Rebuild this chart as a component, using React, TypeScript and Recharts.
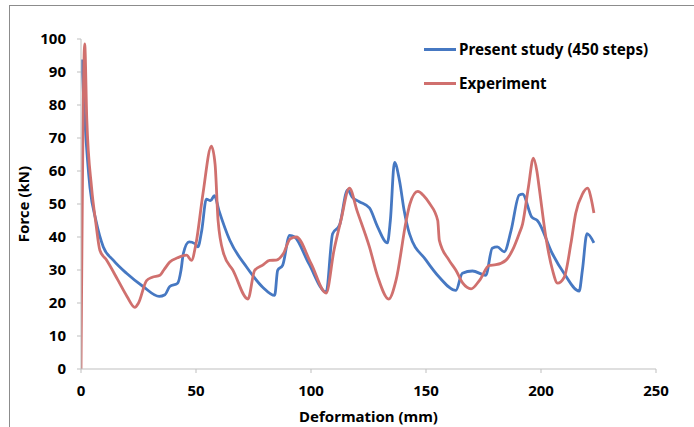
import { Line, LineChart, XAxis, YAxis } from 'recharts';

const presentStudy = [
  { x: 0.3, y: 93.8 }, { x: 1.7, y: 75 }, { x: 3.9, y: 55 }, { x: 6.5, y: 45 },
  { x: 9.7, y: 37 }, { x: 14, y: 33 }, { x: 19.8, y: 29 }, { x: 27, y: 25 },
  { x: 34, y: 22 }, { x: 36.5, y: 22.5 }, { x: 38.6, y: 25 }, { x: 42, y: 26 },
  { x: 43.5, y: 30 }, { x: 44.5, y: 35 }, { x: 47, y: 38.5 }, { x: 49.5, y: 38 },
  { x: 50.8, y: 37 }, { x: 52.5, y: 42 }, { x: 54.5, y: 51.5 }, { x: 56.3, y: 51 },
  { x: 58, y: 52.5 }, { x: 60, y: 48 }, { x: 64.7, y: 39 }, { x: 71.9, y: 31 },
  { x: 79, y: 24.8 }, { x: 84.2, y: 22.3 }, { x: 85.5, y: 29.9 }, { x: 87.7, y: 31.5 },
  { x: 90.7, y: 40.5 }, { x: 92.9, y: 40 }, { x: 99, y: 32 }, { x: 106.6, y: 23.3 },
  { x: 109.4, y: 41 }, { x: 112.4, y: 43.6 }, { x: 115.9, y: 54.3 }, { x: 118, y: 52 },
  { x: 121, y: 50.7 }, { x: 125.4, y: 48.8 }, { x: 129, y: 43 }, { x: 133.2, y: 38.2 },
  { x: 134.5, y: 45 }, { x: 136.3, y: 62.6 }, { x: 138.5, y: 57 }, { x: 140.5, y: 48 },
  { x: 142.8, y: 41 }, { x: 150, y: 33 }, { x: 155.8, y: 27.8 }, { x: 163, y: 23.8 },
  { x: 165.8, y: 29 }, { x: 170.2, y: 29.7 }, { x: 176, y: 28.4 }, { x: 178.8, y: 36.6 },
  { x: 181, y: 37 }, { x: 184, y: 35.5 }, { x: 187, y: 42 }, { x: 190.5, y: 52.7 },
  { x: 192, y: 53 }, { x: 196, y: 46 }, { x: 198.4, y: 45 }, { x: 204.9, y: 35 },
  { x: 210, y: 29 }, { x: 216.6, y: 23.6 }, { x: 218, y: 30 }, { x: 220, y: 41 },
  { x: 223, y: 38.2 },
];

const experiment = [
  { x: 0, y: 0 }, { x: 1.6, y: 98.5 }, { x: 2.5, y: 76 }, { x: 4.6, y: 55 },
  { x: 6.5, y: 44 }, { x: 8.2, y: 36 }, { x: 11.1, y: 33 }, { x: 16, y: 27 },
  { x: 20, y: 22 }, { x: 23.4, y: 18.7 }, { x: 25, y: 20 }, { x: 28.5, y: 26.8 },
  { x: 31, y: 27.8 }, { x: 34.3, y: 28.4 }, { x: 36, y: 30 }, { x: 38.6, y: 32.4 },
  { x: 42, y: 33.7 }, { x: 45.9, y: 34.5 }, { x: 48, y: 32.9 }, { x: 50, y: 38 },
  { x: 53, y: 53 }, { x: 56.7, y: 67.5 }, { x: 58.3, y: 62 }, { x: 59.6, y: 45 },
  { x: 62, y: 35 }, { x: 66.1, y: 29.9 }, { x: 72.6, y: 21.2 }, { x: 75.5, y: 29.9 },
  { x: 79, y: 31.5 }, { x: 82, y: 32.9 }, { x: 84.9, y: 33 }, { x: 88, y: 35 },
  { x: 91, y: 39.5 }, { x: 93.6, y: 40 }, { x: 100, y: 32 }, { x: 106.6, y: 23 },
  { x: 110, y: 36 }, { x: 113, y: 45 }, { x: 116.7, y: 54.8 }, { x: 120, y: 48 },
  { x: 125.4, y: 37 }, { x: 129, y: 28 }, { x: 133.8, y: 21.2 }, { x: 137, y: 27 },
  { x: 141.4, y: 45 }, { x: 143, y: 50 }, { x: 146.4, y: 53.8 }, { x: 149, y: 52.5 },
  { x: 151.5, y: 50.2 }, { x: 155.1, y: 45 }, { x: 155.8, y: 39 }, { x: 160, y: 33 },
  { x: 163, y: 29.9 }, { x: 166, y: 26 }, { x: 169.6, y: 24.3 }, { x: 173.2, y: 26.8 },
  { x: 177.5, y: 31.4 }, { x: 180.4, y: 31.6 }, { x: 184.8, y: 33 }, { x: 187.6, y: 36 },
  { x: 190.5, y: 41 }, { x: 192, y: 44 }, { x: 194.5, y: 55 }, { x: 196.7, y: 63.9 },
  { x: 198.2, y: 60 }, { x: 199.2, y: 55 }, { x: 202.1, y: 40 }, { x: 205, y: 30 },
  { x: 207.2, y: 26 }, { x: 210.1, y: 27.8 }, { x: 213, y: 38 }, { x: 215.1, y: 47.2 },
  { x: 218, y: 53 }, { x: 220.2, y: 54.8 }, { x: 222, y: 51 }, { x: 223, y: 47.3 },
];

const xTicks = [0, 50, 100, 150, 200, 250];
const yTicks = [0, 10, 20, 30, 40, 50, 60, 70, 80, 90, 100];

const BLUE = '#4678c2';
const RED = '#d0706e';
const FONT = '"Noto Sans", sans-serif';
const series = [
  { name: 'Present study (450 steps)', color: BLUE },
  { name: 'Experiment', color: RED },
];

const textStyle = { fill: '#000', fontFamily: FONT, fontWeight: 700, fontSize: 15 };

export default function App() {
  return (
    <div style={{ position: 'absolute', left: 0, top: 0, width: 694, height: 427, overflow: 'hidden', background: '#fff' }}>
      <div
        style={{
          position: 'absolute',
          left: 9,
          top: 5,
          width: 800,
          height: 600,
          borderLeft: '1px solid #8c8c8c',
          borderTop: '1px solid #8c8c8c',
        }}
      />
      <LineChart
        width={694}
        height={427}
        margin={{ top: 39, right: 38, bottom: 5, left: 21 }}
        style={{ position: 'absolute', left: 0, top: 0 }}
      >
        <XAxis
          dataKey="x"
          type="number"
          domain={[0, 250]}
          ticks={xTicks}
          allowDataOverflow
          stroke="#bfbfbf"
          tickSize={4}
          tick={textStyle}
          tickMargin={12}
          height={53}
          label={{
            value: 'Deformation (mm)',
            position: 'insideBottom',
            offset: 0,
            style: textStyle,
          }}
        />
        <YAxis
          dataKey="y"
          type="number"
          domain={[0, 100]}
          ticks={yTicks}
          stroke="#bfbfbf"
          tickSize={4}
          tickMargin={11}
          width={60}
          tick={textStyle}
          label={{
            value: 'Force (kN)',
            angle: -90,
            position: 'insideLeft',
            offset: 3,
            style: { ...textStyle, textAnchor: 'middle' },
          }}
        />
        <Line
          data={presentStudy}
          dataKey="y"
          name="Present study (450 steps)"
          type="monotone"
          stroke={BLUE}
          strokeWidth={2.8}
          dot={false}
          isAnimationActive={false}
        />
        <Line
          data={experiment}
          dataKey="y"
          name="Experiment"
          type="monotone"
          stroke={RED}
          strokeWidth={2.8}
          dot={false}
          isAnimationActive={false}
        />
      </LineChart>
      <div
        style={{
          position: 'absolute',
          left: 424,
          top: 32,
          fontFamily: FONT,
          fontWeight: 700,
          fontSize: 15.2,
          color: '#000',
        }}
      >
        {series.map((s) => (
          <div key={s.name} style={{ display: 'flex', alignItems: 'center', height: 34 }}>
            <span style={{ width: 32, height: 3, background: s.color, marginRight: 3 }} />
            <span>{s.name}</span>
          </div>
        ))}
      </div>
    </div>
  );
}
